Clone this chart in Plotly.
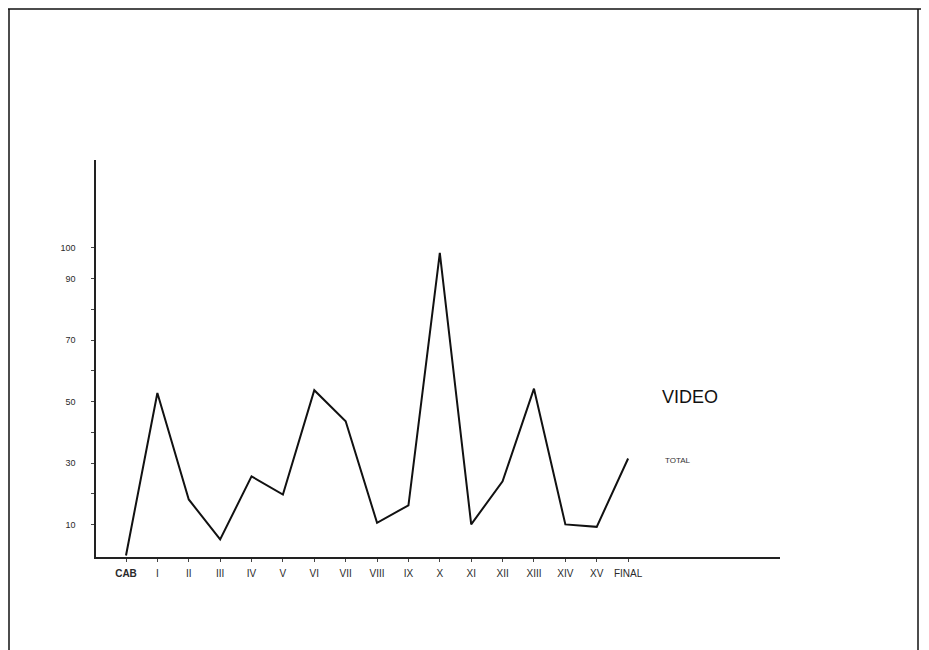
import plotly.graph_objects as go

categories = ["CAB", "I", "II", "III", "IV", "V", "VI", "VII", "VIII", "IX",
              "X", "XI", "XII", "XIII", "XIV", "XV", "FINAL"]
tick_labels = ["<b>CAB</b>", "I", "II", "III", "IV", "V", "VI", "VII", "VIII", "IX",
               "X", "XI", "XII", "XIII", "XIV", "XV", "FINAL"]
total_values = [0, 52.8, 18.2, 5.2, 25.7, 19.8, 53.7, 43.6, 10.6, 16.3,
                98.3, 10.1, 24.1, 54.2, 10.1, 9.3, 31.5]
y_tick_values = [10, 20, 30, 40, 50, 60, 70, 80, 90, 100]
y_tick_labels = ["10", "", "30", "", "50", "", "70", "", "90", "100"]

x_idx = list(range(len(categories)))

fig = go.Figure()
fig.add_trace(go.Scatter(
    x=x_idx, y=total_values, mode="lines",
    line=dict(color="#111111", width=2),
    hovertext=categories, showlegend=False,
))

W, H = 929, 650
SH = 8  # page offset of the rendered figure
L, R, T, B = 96 - SH, 149 + SH, 160 - SH, 93 + SH

fig.update_layout(
    width=W, height=H,
    margin=dict(l=L, r=R, t=T, b=B),
    paper_bgcolor="white", plot_bgcolor="white",
    font=dict(family="Liberation Sans, Arial, sans-serif", color="#222222"),
    xaxis=dict(
        range=[-0.956, 20.84],
        tickvals=x_idx, ticktext=tick_labels,
        showgrid=False, zeroline=False,
        showline=True, linecolor="#222222", linewidth=1.5,
        ticks="outside", ticklen=3, tickcolor="#444444",
        ticklabelstandoff=3,
        tickfont=dict(size=10, color="#2a2a2a"),
    ),
    yaxis=dict(
        range=[-0.5, 128.5],
        tickvals=y_tick_values, ticktext=y_tick_labels,
        showgrid=False, zeroline=False,
        showline=True, linecolor="#222222", linewidth=1.5,
        ticks="outside", ticklen=3, tickcolor="#444444",
        ticklabelstandoff=14,
        tickfont=dict(size=9, color="#2a2a2a"),
    ),
    annotations=[
        dict(x=17.02, y=51.5, xref="x", yref="y", text="VIDEO",
             showarrow=False, xanchor="left", yanchor="middle",
             font=dict(size=18, color="#111111")),
        dict(x=17.1, y=31, xref="x", yref="y", text="TOTAL",
             showarrow=False, xanchor="left", yanchor="middle",
             font=dict(size=8, color="#333333")),
    ],
)

# Frame around the sheet, in figure pixels
pw = W - L - R
ph = H - T - B
def px(xp):
    return (xp - L) / pw
def py(yp):
    return (H - B - yp) / ph

frame = dict(color="#111111", width=1.5)
fig.add_shape(type="line", xref="paper", yref="paper",
              x0=px(0), x1=px(921), y0=py(1), y1=py(1), line=frame)
fig.add_shape(type="line", xref="paper", yref="paper",
              x0=px(1), x1=px(1), y0=py(1), y1=py(650), line=frame)
fig.add_shape(type="line", xref="paper", yref="paper",
              x0=px(910), x1=px(910), y0=py(1), y1=py(650), line=frame)

fig.write_html("out.html")
